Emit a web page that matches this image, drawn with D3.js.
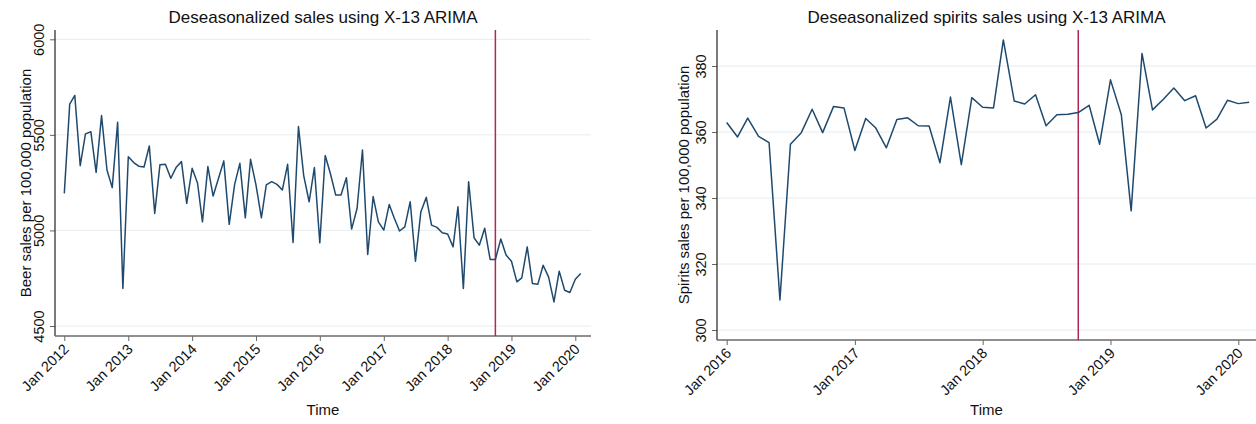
<!DOCTYPE html>
<html>
<head>
<meta charset="utf-8">
<script src="https://cdn.jsdelivr.net/npm/d3@7"></script>
<style>
  html, body { margin: 0; padding: 0; background: #fff; }
  svg { display: block; font-family: "Liberation Sans", Arial, Helvetica, sans-serif; }
</style>
</head>
<body>
<svg id="chart" width="1256" height="424"></svg>
<script>
// Monthly deseasonalized beer sales per 100,000 population, Jan 2012 – Feb 2020
const beerStart = "2012-01";
const beerSales = [
  5194, 5661, 5706, 5339, 5505, 5516, 5304, 5601, 5316, 5224, 5566, 4696,
  5386, 5355, 5336, 5332, 5442, 5089, 5344, 5346, 5273, 5329, 5360, 5142,
  5325, 5247, 5045, 5334, 5180, 5273, 5364, 5032, 5241, 5351, 5066, 5372,
  5238, 5066, 5238, 5255, 5241, 5212, 5346, 4937, 5544, 5287, 5150, 5329,
  4935, 5392, 5299, 5185, 5185, 5276, 5007, 5115, 5421, 4874, 5177, 5045,
  5002, 5136, 5066, 4997, 5019, 5150, 4839, 5098, 5173, 5028, 5016, 4988,
  4981, 4914, 5124, 4696, 5255, 4962, 4923, 5011, 4848, 4848, 4955, 4871,
  4839, 4731, 4752, 4914, 4722, 4719, 4818, 4757, 4626, 4787, 4687, 4675,
  4745, 4775
];
const beerYTicks = [4500, 5000, 5500, 6000];
const beerXTicks = ["Jan 2012", "Jan 2013", "Jan 2014", "Jan 2015", "Jan 2016",
                    "Jan 2017", "Jan 2018", "Jan 2019", "Jan 2020"];

// Monthly deseasonalized spirits sales per 100,000 population, Jan 2016 – Feb 2020
const spiritsStart = "2016-01";
const spiritsSales = [
  362.9, 358.5, 364.2, 358.7, 356.8, 309.1, 356.3, 359.8, 366.9, 359.8, 367.7, 367.3,
  354.4, 364.1, 361.3, 355.2, 363.8, 364.3, 361.9, 361.8, 350.7, 370.6, 350.1, 370.4,
  367.5, 367.3, 387.9, 369.4, 368.5, 371.3, 361.9, 365.2, 365.4, 365.9, 368.1, 356.3,
  375.8, 365.2, 336.1, 383.8, 366.7, 369.9, 373.3, 369.5, 371.0, 361.2, 363.9, 369.6,
  368.6, 369.0
];
const spiritsYTicks = [300, 320, 340, 360, 380];
const spiritsXTicks = ["Jan 2016", "Jan 2017", "Jan 2018", "Jan 2019", "Jan 2020"];

// Month of the policy change marked on both panels
const interventionMonth = "Oct 2018";

const parseMonth = d3.timeParse("%Y-%m");
const parseLabel = d3.timeParse("%b %Y");

function monthly(start, values) {
  const t0 = parseMonth(start);
  return values.map((v, i) => ({ date: d3.timeMonth.offset(t0, i), value: v }));
}

const svg = d3.select("#chart");

function drawPanel(cfg) {
  const g = svg.append("g");
  const x = d3.scaleTime()
    .domain([parseLabel(cfg.xTicks[0]), parseLabel(cfg.xTicks[cfg.xTicks.length - 1])])
    .range(cfg.xRange);
  const y = d3.scaleLinear()
    .domain([cfg.yTicks[0], cfg.yTicks[cfg.yTicks.length - 1]])
    .range(cfg.yRange);

  // horizontal grid
  g.append("g").selectAll("line").data(cfg.yTicks).join("line")
    .attr("x1", cfg.left).attr("x2", cfg.right)
    .attr("y1", d => y(d)).attr("y2", d => y(d))
    .attr("stroke", "#e6ecef").attr("stroke-width", 1);

  // y axis
  const yAxis = g.append("g").attr("transform", `translate(${cfg.left},0)`)
    .call(d3.axisLeft(y).tickValues(cfg.yTicks).tickFormat(d3.format("d"))
      .tickSize(5).tickSizeOuter(0));
  yAxis.select(".domain").remove();
  yAxis.selectAll(".tick line").attr("stroke", "#666");
  yAxis.selectAll(".tick text")
    .attr("font-size", 14.5).attr("fill", "#111")
    .attr("transform", "rotate(-90)")
    .attr("x", 0).attr("y", -11)
    .attr("dy", 0)
    .attr("text-anchor", "middle");
  g.append("line")
    .attr("x1", cfg.left).attr("x2", cfg.left)
    .attr("y1", cfg.top).attr("y2", cfg.bottom)
    .attr("stroke", "#222").attr("stroke-width", 1.2);

  // x axis
  const xAxis = g.append("g").attr("transform", `translate(0,${cfg.bottom})`)
    .call(d3.axisBottom(x).tickValues(cfg.xTicks.map(parseLabel))
      .tickFormat(d3.timeFormat("%b %Y")).tickSize(5).tickSizeOuter(0));
  xAxis.select(".domain").remove();
  xAxis.selectAll(".tick line").attr("stroke", "#666");
  xAxis.selectAll(".tick text")
    .attr("font-size", 14.5).attr("fill", "#111")
    .attr("text-anchor", "end")
    .attr("dy", 0).attr("y", 0)
    .attr("transform", "translate(5,14) rotate(-45)");
  g.append("line")
    .attr("x1", cfg.left).attr("x2", cfg.right)
    .attr("y1", cfg.bottom).attr("y2", cfg.bottom)
    .attr("stroke", "#6a6a6a").attr("stroke-width", 1.5);

  // intervention marker
  const xi = x(parseLabel(interventionMonth));
  g.append("line")
    .attr("x1", xi).attr("x2", xi)
    .attr("y1", cfg.top).attr("y2", cfg.bottom)
    .attr("stroke", "#b0284f").attr("stroke-width", 1.5);

  // series
  const line = d3.line().x(d => x(d.date)).y(d => y(d.value));
  g.append("path")
    .datum(cfg.data)
    .attr("d", line)
    .attr("fill", "none")
    .attr("stroke", "#1f4a6e")
    .attr("stroke-width", 1.5)
    .attr("stroke-linejoin", "round");

  // titles
  const cx = (cfg.left + cfg.right) / 2;
  g.append("text").attr("x", cx).attr("y", 23)
    .attr("text-anchor", "middle").attr("font-size", 17).attr("fill", "#111")
    .text(cfg.title);
  g.append("text").attr("x", cx).attr("y", 415)
    .attr("text-anchor", "middle").attr("font-size", 15).attr("fill", "#111")
    .text("Time");
  g.append("text")
    .attr("transform", `translate(${cfg.yTitleX},${(cfg.top + cfg.bottom) / 2}) rotate(-90)`)
    .attr("text-anchor", "middle").attr("font-size", 15).attr("fill", "#111")
    .text(cfg.yTitle);
}

drawPanel({
  data: monthly(beerStart, beerSales),
  xTicks: beerXTicks, yTicks: beerYTicks,
  left: 55, right: 591, top: 30, bottom: 336,
  xRange: [64.3, 575.3], yRange: [326, 39.3],
  yTitleX: 31,
  title: "Deseasonalized sales using X-13 ARIMA",
  yTitle: "Beer sales per 100,000 population"
});

drawPanel({
  data: monthly(spiritsStart, spiritsSales),
  xTicks: spiritsXTicks, yTicks: spiritsYTicks,
  left: 717, right: 1256, top: 30, bottom: 340,
  xRange: [726.7, 1238.3], yRange: [330, 66],
  yTitleX: 689,
  title: "Deseasonalized spirits sales using X-13 ARIMA",
  yTitle: "Spirits sales per 100,000 population"
});
</script>
</body>
</html>
